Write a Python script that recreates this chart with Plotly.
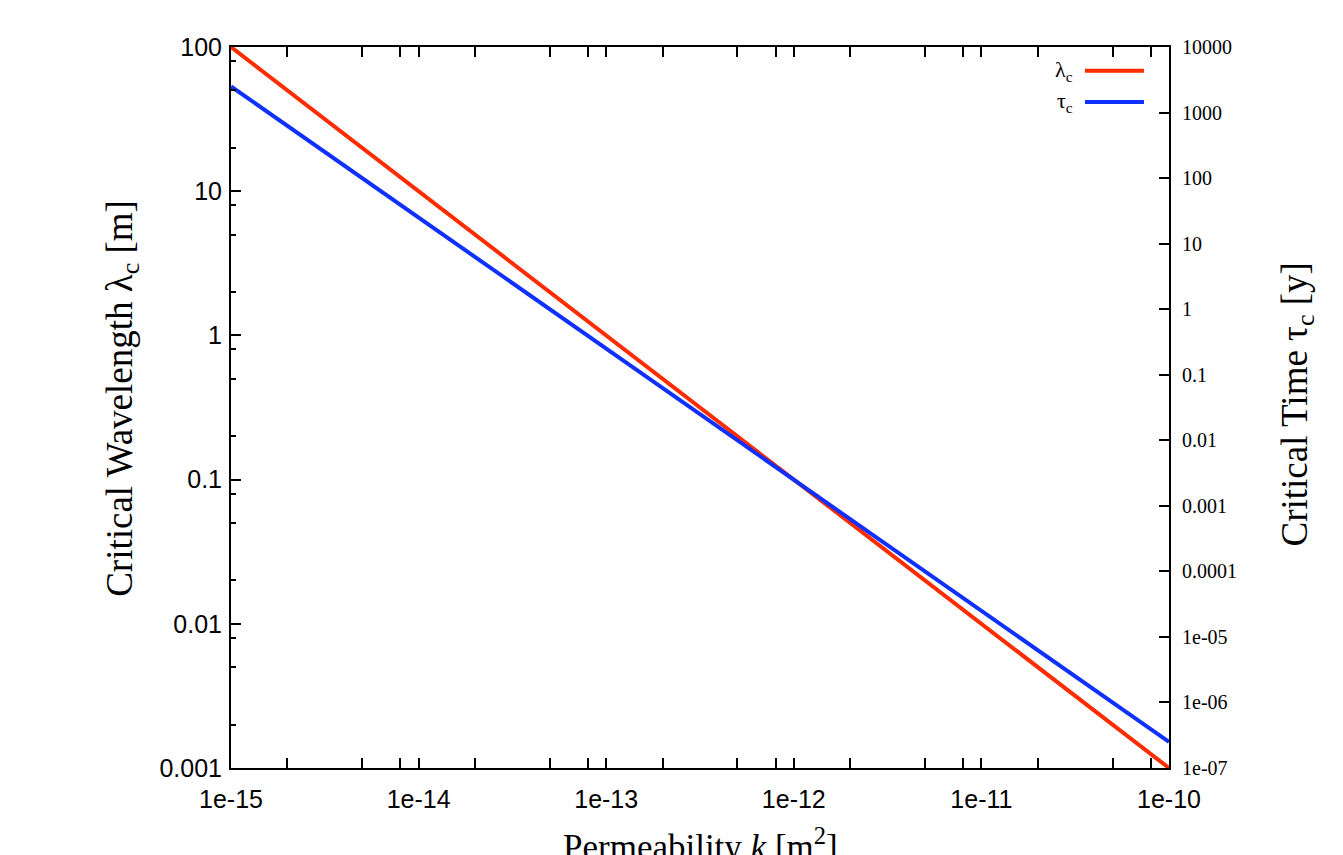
import plotly.graph_objects as go

# Data
permeability = [1e-15, 1e-14, 1e-13, 1e-12, 1e-11, 1e-10]
wavelength = [100, 10, 1, 0.1, 0.01, 0.001]          # lambda_c [m]
crit_time = [2500, 25, 0.25, 0.0025, 2.5e-5, 2.5e-7]  # tau_c [y]

x_ticks = [1e-15, 1e-14, 1e-13, 1e-12, 1e-11, 1e-10]
x_ticktext = ["1e-15", "1e-14", "1e-13", "1e-12", "1e-11", "1e-10"]
y_ticks = [0.001, 0.01, 0.1, 1, 10, 100]
y_ticktext = ["0.001", "0.01", "0.1", "1", "10", "100"]
y2_ticks = [1e-7, 1e-6, 1e-5, 1e-4, 1e-3, 1e-2, 1e-1, 1, 10, 100, 1000, 10000]
y2_ticktext = ["1e-07", "1e-06", "1e-05", "0.0001", "0.001", "0.01", "0.1",
               "1", "10", "100", "1000", "10000"]

RED = "#ff2c00"
BLUE = "#0f30ff"

def minors(lo, hi):
    out = []
    for e in range(lo, hi):
        for m in (2, 5, 8):
            out.append(m * 10 ** e)
    return out

fig = go.Figure()
fig.add_trace(go.Scatter(x=permeability, y=wavelength, mode="lines",
                         line=dict(color=RED, width=4), name="λc", yaxis="y"))
fig.add_trace(go.Scatter(x=permeability, y=crit_time, mode="lines",
                         line=dict(color=BLUE, width=4), name="τc", yaxis="y2"))

sans = dict(family="Liberation Sans, Arial, sans-serif", size=25, color="black")
serif_tick = dict(family="Liberation Serif, Times New Roman, serif", size=20, color="black")

fig.update_layout(
    width=1343, height=855,
    margin=dict(l=223, r=182, t=39, b=95),
    paper_bgcolor="white", plot_bgcolor="white",
    showlegend=False,
    xaxis=dict(type="log", range=[-15, -10], showgrid=False, zeroline=False,
               showline=True, linecolor="black", linewidth=2, mirror="allticks",
               ticks="inside", ticklen=10, tickwidth=1.5, tickcolor="black",
               tickmode="array", tickvals=x_ticks, ticktext=x_ticktext,
               tickfont=sans, ticklabelstandoff=8,
               minor=dict(tickmode="array", tickvals=minors(-15, -10), ticks="inside",
                          ticklen=5, tickwidth=1.5, tickcolor="black", showgrid=False)),
    yaxis=dict(type="log", range=[-3, 2], showgrid=False, zeroline=False,
               showline=True, linecolor="black", linewidth=2,
               ticks="inside", ticklen=10, tickwidth=1.5, tickcolor="black",
               tickmode="array", tickvals=y_ticks, ticktext=y_ticktext,
               tickfont=sans, ticklabelstandoff=2,
               minor=dict(tickmode="array", tickvals=minors(-3, 2), ticks="inside",
                          ticklen=5, tickwidth=1.5, tickcolor="black", showgrid=False)),
    yaxis2=dict(type="log", range=[-7, 4], overlaying="y", side="right",
                showgrid=False, zeroline=False,
                showline=True, linecolor="black", linewidth=2,
                ticks="inside", ticklen=10, tickwidth=1.5, tickcolor="black",
                tickmode="array", tickvals=y2_ticks, ticktext=y2_ticktext,
                tickfont=serif_tick, ticklabelstandoff=7),
)

ytitle_font = dict(family="Liberation Serif, Times New Roman, serif", size=37, color="black")
xtitle_font = dict(family="Liberation Serif, Times New Roman, serif", size=35, color="black")
fig.add_annotation(text="Critical Wavelength λ<sub>c</sub> [m]", xref="paper", yref="paper",
                   x=-0.1165, y=0.513, textangle=-90, showarrow=False, font=ytitle_font,
                   xanchor="center", yanchor="middle")
fig.add_annotation(text="Critical Time τ<sub>c</sub> [y]", xref="paper", yref="paper",
                   x=1.1370, y=0.5035, textangle=-90, showarrow=False, font=ytitle_font,
                   xanchor="center", yanchor="middle")
fig.add_annotation(text="Permeability <i>k</i> [m<sup>2</sup>]", xref="paper", yref="paper",
                   x=0.5, y=-0.072, showarrow=False, font=xtitle_font,
                   xanchor="center", yanchor="top")

# Key (gnuplot style: label left of line sample)
leg_font = dict(family="Liberation Serif, Times New Roman, serif", size=22, color="black")
for label, color, ypos in [("λ<sub>c</sub>", RED, 0.9671), ("τ<sub>c</sub>", BLUE, 0.9237)]:
    fig.add_annotation(text=label, xref="paper", yref="paper", x=0.8998, y=ypos,
                       xanchor="right", yanchor="middle", showarrow=False, font=leg_font)
    fig.add_shape(type="line", xref="paper", yref="paper", x0=0.9104, x1=0.9733,
                  y0=ypos, y1=ypos, line=dict(color=color, width=4))

fig.write_html("out.html")
